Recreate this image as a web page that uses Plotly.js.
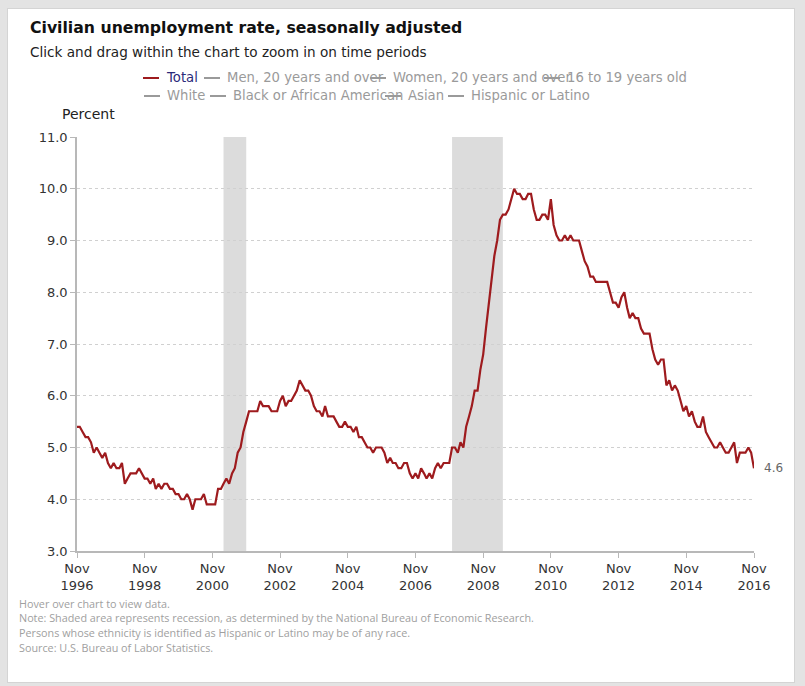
<!DOCTYPE html>
<html>
<head>
<meta charset="utf-8">
<script src="https://cdn.plot.ly/plotly-3.0.1.min.js"></script>
<style>
  html, body { margin: 0; padding: 0; background: #e3e3e3; }
  #panel { position: absolute; left: 7px; top: 8px; width: 786px; height: 673px; background: #ffffff; border: 1px solid #d4d4d4; }
  #chart { position: absolute; left: 0; top: 0; width: 805px; height: 686px; }
</style>
</head>
<body>
<div id="panel"></div>
<div id="chart"></div>
<script>
// ---- Data: monthly civilian unemployment rate, Nov 1996 - Nov 2016 ----
const startYear = 1996;
const startMonth = 11; // November
const rate1996 = [5.4, 5.4]; // Nov, Dec
const rate1997 = [5.3, 5.2, 5.2, 5.1, 4.9, 5.0, 4.9, 4.8, 4.9, 4.7, 4.6, 4.7];
const rate1998 = [4.6, 4.6, 4.7, 4.3, 4.4, 4.5, 4.5, 4.5, 4.6, 4.5, 4.4, 4.4];
const rate1999 = [4.3, 4.4, 4.2, 4.3, 4.2, 4.3, 4.3, 4.2, 4.2, 4.1, 4.1, 4.0];
const rate2000 = [4.0, 4.1, 4.0, 3.8, 4.0, 4.0, 4.0, 4.1, 3.9, 3.9, 3.9, 3.9];
const rate2001 = [4.2, 4.2, 4.3, 4.4, 4.3, 4.5, 4.6, 4.9, 5.0, 5.3, 5.5, 5.7];
const rate2002 = [5.7, 5.7, 5.7, 5.9, 5.8, 5.8, 5.8, 5.7, 5.7, 5.7, 5.9, 6.0];
const rate2003 = [5.8, 5.9, 5.9, 6.0, 6.1, 6.3, 6.2, 6.1, 6.1, 6.0, 5.8, 5.7];
const rate2004 = [5.7, 5.6, 5.8, 5.6, 5.6, 5.6, 5.5, 5.4, 5.4, 5.5, 5.4, 5.4];
const rate2005 = [5.3, 5.4, 5.2, 5.2, 5.1, 5.0, 5.0, 4.9, 5.0, 5.0, 5.0, 4.9];
const rate2006 = [4.7, 4.8, 4.7, 4.7, 4.6, 4.6, 4.7, 4.7, 4.5, 4.4, 4.5, 4.4];
const rate2007 = [4.6, 4.5, 4.4, 4.5, 4.4, 4.6, 4.7, 4.6, 4.7, 4.7, 4.7, 5.0];
const rate2008 = [5.0, 4.9, 5.1, 5.0, 5.4, 5.6, 5.8, 6.1, 6.1, 6.5, 6.8, 7.3];
const rate2009 = [7.8, 8.3, 8.7, 9.0, 9.4, 9.5, 9.5, 9.6, 9.8, 10.0, 9.9, 9.9];
const rate2010 = [9.8, 9.8, 9.9, 9.9, 9.6, 9.4, 9.4, 9.5, 9.5, 9.4, 9.8, 9.3];
const rate2011 = [9.1, 9.0, 9.0, 9.1, 9.0, 9.1, 9.0, 9.0, 9.0, 8.8, 8.6, 8.5];
const rate2012 = [8.3, 8.3, 8.2, 8.2, 8.2, 8.2, 8.2, 8.0, 7.8, 7.8, 7.7, 7.9];
const rate2013 = [8.0, 7.7, 7.5, 7.6, 7.5, 7.5, 7.3, 7.2, 7.2, 7.2, 6.9, 6.7];
const rate2014 = [6.6, 6.7, 6.7, 6.2, 6.3, 6.1, 6.2, 6.1, 5.9, 5.7, 5.8, 5.6];
const rate2015 = [5.7, 5.5, 5.4, 5.4, 5.6, 5.3, 5.2, 5.1, 5.0, 5.0, 5.1, 5.0];
const rate2016 = [4.9, 4.9, 5.0, 5.1, 4.7, 4.9, 4.9, 4.9, 5.0, 4.9, 4.6]; // Jan - Nov

const recessionStarts = ['2001-03-01', '2007-12-01'];
const recessionEnds   = ['2001-11-01', '2009-06-01'];

const tickDates  = ['1996-11-01','1998-11-01','2000-11-01','2002-11-01','2004-11-01','2006-11-01',
                    '2008-11-01','2010-11-01','2012-11-01','2014-11-01','2016-11-01'];
const tickLabels = ['Nov<br>1996','Nov<br>1998','Nov<br>2000','Nov<br>2002','Nov<br>2004','Nov<br>2006',
                    'Nov<br>2008','Nov<br>2010','Nov<br>2012','Nov<br>2014','Nov<br>2016'];
const yTicks = [3, 4, 5, 6, 7, 8, 9, 10, 11];

const legendRow1 = ['Total', 'Men, 20 years and over', 'Women, 20 years and over', '16 to 19 years old'];
const legendRow2 = ['White', 'Black or African American', 'Asian', 'Hispanic or Latino'];

const footnotes = [
  'Hover over chart to view data.',
  'Note: Shaded area represents recession, as determined by the National Bureau of Economic Research.',
  'Persons whose ethnicity is identified as Hispanic or Latino may be of any race.',
  'Source: U.S. Bureau of Labor Statistics.'
];

// ---- Build series ----
const rates = [].concat(rate1996, rate1997, rate1998, rate1999, rate2000, rate2001, rate2002,
  rate2003, rate2004, rate2005, rate2006, rate2007, rate2008, rate2009, rate2010, rate2011,
  rate2012, rate2013, rate2014, rate2015, rate2016);
const dates = rates.map((_, i) => {
  const m0 = startMonth - 1 + i;
  const y = startYear + Math.floor(m0 / 12);
  const m = (m0 % 12) + 1;
  return y + '-' + String(m).padStart(2, '0') + '-01';
});

// ---- Plot geometry (pixels) ----
const W = 805, H = 686;
const L = 77, R = 754, T = 137, B = 551;
const px = x => (x - L) / (R - L);
const py = y => (B - y) / (B - T);

const font = 'DejaVu Sans, Verdana, sans-serif';
const lineColor = '#9e1b1e';

const shapes = recessionStarts.map((s, i) => ({
  type: 'rect', xref: 'x', yref: 'paper', x0: s, x1: recessionEnds[i], y0: 0, y1: 1,
  fillcolor: '#dcdcdc', line: { width: 0 }, layer: 'below'
}));

const annotations = [];
annotations.push({
  xref: 'paper', yref: 'paper', x: px(28), y: py(52), xanchor: 'left', yanchor: 'middle',
  text: 'Click and drag within the chart to zoom in on time periods', showarrow: false,
  font: { family: font, size: 13.6, color: '#222' }
});
annotations.push({
  xref: 'paper', yref: 'paper', x: px(60), y: py(114), xanchor: 'left', yanchor: 'middle',
  text: 'Percent', showarrow: false, font: { family: font, size: 14, color: '#222' }
});

// legend (hidden series shown in grey; symbols overlap text ends as in the source)
const row1X = [165, 226, 392, 566];
const row2X = [166, 232, 407, 470];
const legendY = [77, 95];
[[legendRow1, row1X], [legendRow2, row2X]].forEach(([names, xs], r) => {
  names.forEach((name, i) => {
    const isTotal = (r === 0 && i === 0);
    annotations.push({
      xref: 'paper', yref: 'paper', x: px(xs[i] - 1), y: py(legendY[r]), xanchor: 'left', yanchor: 'middle',
      text: name, showarrow: false,
      font: { family: font, size: 13.2, color: isTotal ? '#2b2a7a' : '#9a9a9a' }
    });
    shapes.push({
      type: 'line', xref: 'paper', yref: 'paper',
      x0: px(xs[i] - 22), x1: px(xs[i] - 6), y0: py(legendY[r] + 1), y1: py(legendY[r] + 1),
      line: { color: isTotal ? lineColor : '#9a9a9a', width: 2 }, layer: 'above'
    });
  });
});

// last value label
annotations.push({
  xref: 'x', yref: 'y', x: dates[dates.length - 1], y: rates[rates.length - 1],
  xanchor: 'left', yanchor: 'middle', xshift: 8, yshift: 0,
  text: rates[rates.length - 1].toFixed(1), showarrow: false,
  font: { family: font, size: 12, color: '#666' }
});

// footnotes
footnotes.forEach((t, i) => {
  annotations.push({
    xref: 'paper', yref: 'paper', x: px(17), y: py(603 + i * 14.7), xanchor: 'left', yanchor: 'middle',
    text: t, showarrow: false, font: { family: 'Liberation Sans Narrow, Open Sans, sans-serif', size: 10.8, color: '#a0a0a0' }
  });
});

const trace = {
  x: dates, y: rates, type: 'scatter', mode: 'lines', name: 'Total',
  line: { color: lineColor, width: 2.2 }, hoverinfo: 'x+y'
};

const layout = {
  width: W, height: H,
  margin: { l: L, r: W - R, t: T, b: H - B, pad: 0 },
  paper_bgcolor: 'rgba(0,0,0,0)', plot_bgcolor: 'rgba(0,0,0,0)',
  showlegend: false,
  title: {
    text: '<b>Civilian unemployment rate, seasonally adjusted</b>',
    x: 30 / W, xref: 'container', xanchor: 'left',
    y: 1 - 28 / H, yref: 'container', yanchor: 'middle',
    font: { family: font, size: 15.7, color: '#111' }
  },
  xaxis: {
    type: 'date', range: ['1996-11-01', '2016-11-01'],
    tickmode: 'array', tickvals: tickDates, ticktext: tickLabels,
    showgrid: false, zeroline: false,
    showline: true, linecolor: '#b8b8b8', linewidth: 1.5,
    ticks: 'outside', ticklen: 5, tickcolor: '#b8b8b8',
    tickfont: { family: font, size: 13, color: '#333' }
  },
  yaxis: {
    range: [3, 11], tickmode: 'array', tickvals: yTicks, ticktext: yTicks.map(v => v.toFixed(1)),
    showgrid: true, gridcolor: '#d0d0d0', griddash: 'dot', gridwidth: 1,
    zeroline: false, showline: true, linecolor: '#b8b8b8', linewidth: 1.5,
    ticks: 'outside', ticklen: 5, tickcolor: '#b8b8b8',
    tickfont: { family: font, size: 13, color: '#333' }
  },
  shapes: shapes,
  annotations: annotations
};

Plotly.newPlot('chart', [trace], layout, { displayModeBar: false, responsive: false });
</script>
</body>
</html>
